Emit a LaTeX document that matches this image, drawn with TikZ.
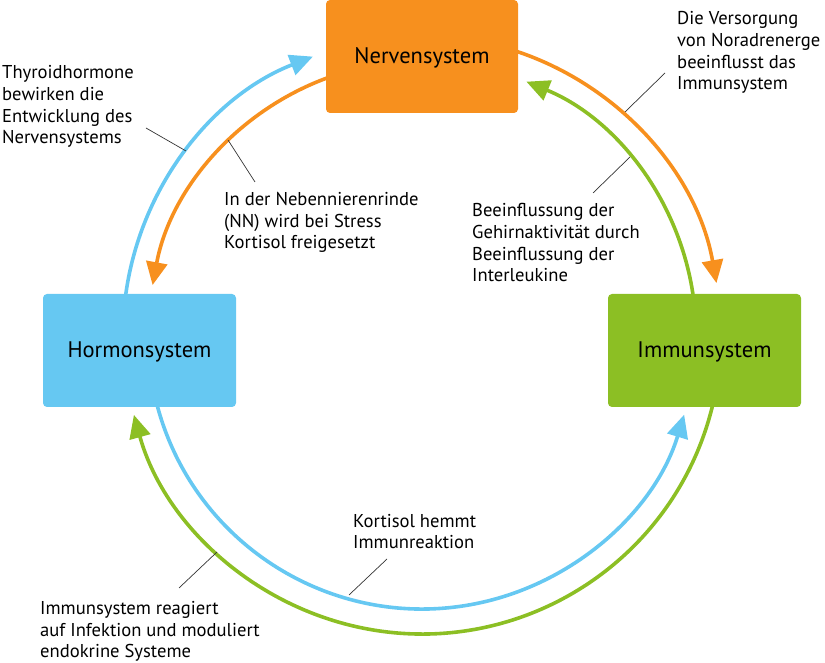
\documentclass[tikz,border=0pt]{standalone}
\usepackage{fontspec}
\setmainfont{PT Sans}
\usetikzlibrary{arrows.meta}
\definecolor{cOrange}{HTML}{F7901E}
\definecolor{cBlue}{HTML}{66C8F2}
\definecolor{cGreen}{HTML}{8CBF24}
\definecolor{cLead}{HTML}{333333}
\tikzset{
  sysbox/.style={anchor=base, inner sep=0pt, text=black, font=\fontsize{22.5}{26}\selectfont},
  flow/.style={line width=3.6pt, -{Triangle[length=23pt,width=21pt]}},
  lbl/.style={anchor=base west, inner sep=0pt, align=left, text=black, font=\fontsize{18.6}{21.7}\selectfont},
  leader/.style={draw=cLead, line width=0.7pt}
}
\begin{document}
\begin{tikzpicture}[x=1pt,y=1pt]
\useasboundingbox (0,0) rectangle (825,663);
\coordinate (C) at (422,328);
% arcs
\draw[flow, cBlue]   (C) ++(174:299) arc[start angle=174, end angle=111.4, radius=299];
\draw[flow, cOrange] (C) ++(73:299)  arc[start angle=73, end angle=10.0, radius=299];
\draw[flow, cGreen]  (C) ++(-12:299) arc[start angle=-12, end angle=-164.5, radius=299];
\draw[flow, cOrange] (C) ++(108:274) arc[start angle=108, end angle=169.5, radius=274];
\draw[flow, cGreen]  (C) ++(6:274)   arc[start angle=6, end angle=67.6, radius=274];
\draw[flow, cBlue]   (C) ++(194:274) arc[start angle=194, end angle=343.1, radius=274];
% boxes
\fill[cOrange, rounded corners=4pt] (326,550) rectangle (518,663);
\node[sysbox] (nerv) at (422,599) {Nervensystem};
\fill[cBlue, rounded corners=4pt] (43,256) rectangle (236,369);
\node[sysbox] (horm) at (139.5,305) {Hormonsystem};
\fill[cGreen, rounded corners=4pt] (608,256) rectangle (801,369);
\node[sysbox] (immun) at (704.5,305) {Immunsystem};
% labels (anchor at baseline of last line)
\node[lbl] (t1) at (2,519) {Thyroidhormone\\bewirken die\\Entwicklung des\\Nervensystems};
\node[lbl] (t2) at (677,573) {Die Versorgung\\von Noradrenerge\\beeinflusst das\\Immunsystem};
\node[lbl] (t3) at (472,381) {Beeinflussung der\\Gehirnaktivität durch\\Beeinflussung der\\Interleukine};
\node[lbl] (t4) at (224,414) {In der Nebennierenrinde\\(NN) wird bei Stress\\Kortisol freigesetzt};
\node[lbl] (t5) at (353,114) {Kortisol hemmt\\Immunreaktion};
\node[lbl] (t6) at (40,5) {Immunsystem reagiert\\auf Infektion und moduliert\\endokrine Systeme};
% leaders
\coordinate (a1) at (146,535); \coordinate (b1) at (186,512);
\coordinate (a2) at (255,481); \coordinate (b2) at (228,523);
\coordinate (a3) at (665,590); \coordinate (b3) at (625,551);
\coordinate (a4) at (593,470); \coordinate (b4) at (630,506);
\coordinate (a5) at (387,104); \coordinate (b5) at (349,68);
\coordinate (a6) at (179,75);  \coordinate (b6) at (217,111);
\draw[leader] (a1) -- (b1);
\draw[leader] (a2) -- (b2);
\draw[leader] (a3) -- (b3);
\draw[leader] (a4) -- (b4);
\draw[leader] (a5) -- (b5);
\draw[leader] (a6) -- (b6);
\end{tikzpicture}
\end{document}
